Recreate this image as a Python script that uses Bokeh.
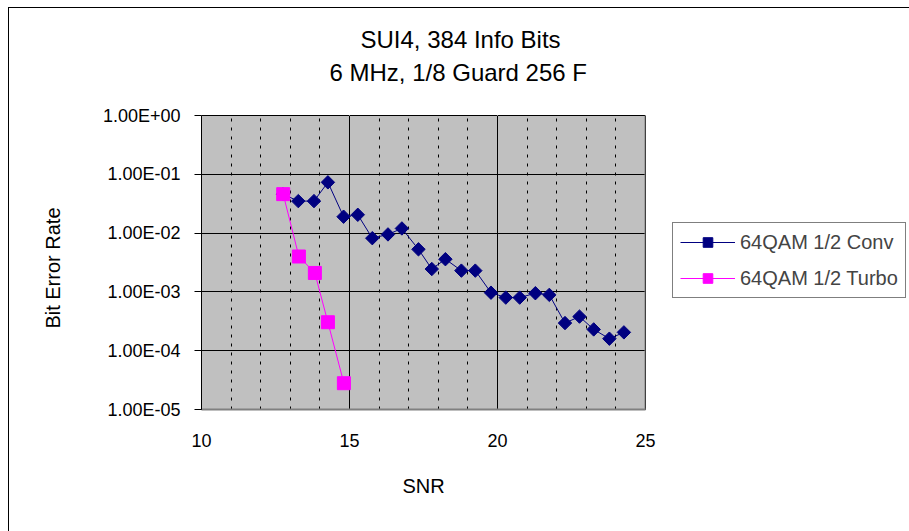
import numpy as np
from bokeh.plotting import figure
from bokeh.models import (FixedTicker, Legend, LegendItem, Span, Title,
                          LinearAxis, ColumnDataSource)
from bokeh.embed import file_html
from bokeh.resources import INLINE

# ---- data ----
title_lines = ["SUI4, 384 Info Bits", "6 MHz, 1/8 Guard 256 F"]
x_label = "SNR"
y_label = "Bit  Error  Rate"

conv_name = "64QAM 1/2 Conv"
conv_snr = [12.75, 13.27, 13.8, 14.27, 14.8, 15.28, 15.77, 16.3, 16.77, 17.33,
            17.78, 18.24, 18.78, 19.25, 19.78, 20.28, 20.75, 21.28, 21.75,
            22.28, 22.77, 23.25, 23.78, 24.27]
conv_ber = [4.6e-2, 3.5e-2, 3.5e-2, 7.3e-2, 1.9e-2, 2.05e-2, 8.2e-3, 9.5e-3,
            1.2e-2, 5.3e-3, 2.45e-3, 3.6e-3, 2.3e-3, 2.3e-3, 9.7e-4, 8.0e-4,
            8.0e-4, 9.5e-4, 8.9e-4, 2.95e-4, 3.8e-4, 2.3e-4, 1.6e-4, 2.05e-4]

turbo_name = "64QAM 1/2 Turbo"
turbo_snr = [12.76, 13.29, 13.83, 14.27, 14.81]
turbo_ber = [4.6e-2, 4.0e-3, 2.1e-3, 3.05e-4, 2.8e-5]

x_ticks = [10, 15, 20, 25]
x_minor = [11, 12, 13, 14, 16, 17, 18, 19, 21, 22, 23, 24]
y_ticks = [1e-5, 1e-4, 1e-3, 1e-2, 1e-1, 1e0]
y_tick_labels = ["1.00E-05", "1.00E-04", "1.00E-03", "1.00E-02", "1.00E-01", "1.00E+00"]

FONT = "Liberation Sans"

p = figure(frame_width=444, frame_height=294, output_backend="svg",
           toolbar_location=None,
           x_range=(10, 25), y_range=(1e-5, 1), y_axis_type="log",
           min_border_left=192, min_border_top=107, min_border_right=264,
           min_border_bottom=122, title=None)
p.styles = {"margin-left": "8px", "margin-top": "7px",
            "border-left": "1px solid black", "border-top": "1px solid black"}
p.background_fill_color = "#C0C0C0"
p.border_fill_color = "white"
p.outline_line_color = "black"
p.outline_line_width = 1

# axes
xt = FixedTicker(ticks=x_ticks, minor_ticks=x_minor)
yt = FixedTicker(ticks=y_ticks, minor_ticks=[])
p.xaxis.ticker = xt
p.yaxis.ticker = yt
p.yaxis.major_label_overrides = {t: l for t, l in zip(y_ticks, y_tick_labels)}

for ax in p.xaxis:
    ax.major_tick_line_color = None
    ax.minor_tick_line_color = None
    ax.axis_line_color = "#808080"
    ax.axis_line_width = 2
    ax.major_label_standoff = 18
    ax.major_label_text_font = FONT
    ax.major_label_text_font_size = "18px"
    ax.major_label_text_color = "black"
    ax.axis_label = x_label
    ax.axis_label_text_font = FONT
    ax.axis_label_text_font_size = "20px"
    ax.axis_label_text_font_style = "normal"
    ax.axis_label_text_color = "black"
    ax.axis_label_standoff = 25

for ax in p.yaxis:
    ax.major_tick_out = 7
    ax.major_tick_in = 0
    ax.major_tick_line_color = "black"
    ax.minor_tick_line_color = None
    ax.axis_line_color = "black"
    ax.major_label_standoff = 14
    ax.major_label_text_font = FONT
    ax.major_label_text_font_size = "18px"
    ax.major_label_text_color = "black"
    ax.axis_label = y_label
    ax.axis_label_text_font = FONT
    ax.axis_label_text_font_size = "20px"
    ax.axis_label_text_font_style = "normal"
    ax.axis_label_text_color = "black"
    ax.axis_label_standoff = 36

# unlabeled axis above the plot area: white ticks keep the titles up
top_ax = LinearAxis(ticker=xt, major_tick_out=28, major_tick_in=0,
                    major_tick_line_color="white", minor_tick_line_color=None,
                    major_label_standoff=0, major_label_text_color=None,
                    axis_line_color="black")
p.add_layout(top_ax, "above")

# right edge of the plot area (gray shadow line)
p.add_layout(Span(location=25, dimension="height", line_color="#808080",
                  line_width=2))

# grids
p.xgrid.ticker = xt
p.xgrid.grid_line_color = "black"
p.xgrid.grid_line_width = 1
p.xgrid.minor_grid_line_color = "black"
p.xgrid.minor_grid_line_dash = "3 6"
p.ygrid.ticker = yt
p.ygrid.grid_line_color = "black"
p.ygrid.grid_line_width = 1

# series
conv_src = ColumnDataSource(dict(x=conv_snr, y=conv_ber))
turbo_src = ColumnDataSource(dict(x=turbo_snr, y=turbo_ber))

cl = p.line("x", "y", source=conv_src, line_color="#000080", line_width=1)
cm = p.scatter("x", "y", source=conv_src, marker="square", angle=np.pi / 4,
               size=9.5, fill_color="#000080", line_color="#000080")
tl = p.line("x", "y", source=turbo_src, line_color="#FF00FF", line_width=1)
tm = p.scatter("x", "y", source=turbo_src, marker="square", size=13,
               fill_color="#FF00FF", line_color="#FF00FF")

legend = Legend(items=[LegendItem(label=conv_name, renderers=[cl, cm]),
                       LegendItem(label=turbo_name, renderers=[tl, tm])],
                location=(27, 111))
legend.label_text_font = FONT
legend.label_text_font_size = "20px"
legend.glyph_width = 55
legend.glyph_height = 24
legend.label_height = 24
legend.label_standoff = 5
legend.spacing = 12
legend.padding = 7
legend.margin = 0
legend.border_line_color = "black"
legend.border_line_width = 1
legend.background_fill_color = "white"
legend.background_fill_alpha = 1
p.add_layout(legend, "right")

# title lines (second line nearest the plot)
p.add_layout(Title(text=title_lines[1], align="left", offset=128,
                   text_font=FONT, text_font_size="24px", text_color="black",
                   text_font_style="normal", standoff=4), "above")
p.add_layout(Title(text=title_lines[0], align="left", offset=159,
                   text_font=FONT, text_font_size="24px", text_color="black",
                   text_font_style="normal", standoff=3), "above")

open("out.html", "w").write(file_html(p, INLINE))
